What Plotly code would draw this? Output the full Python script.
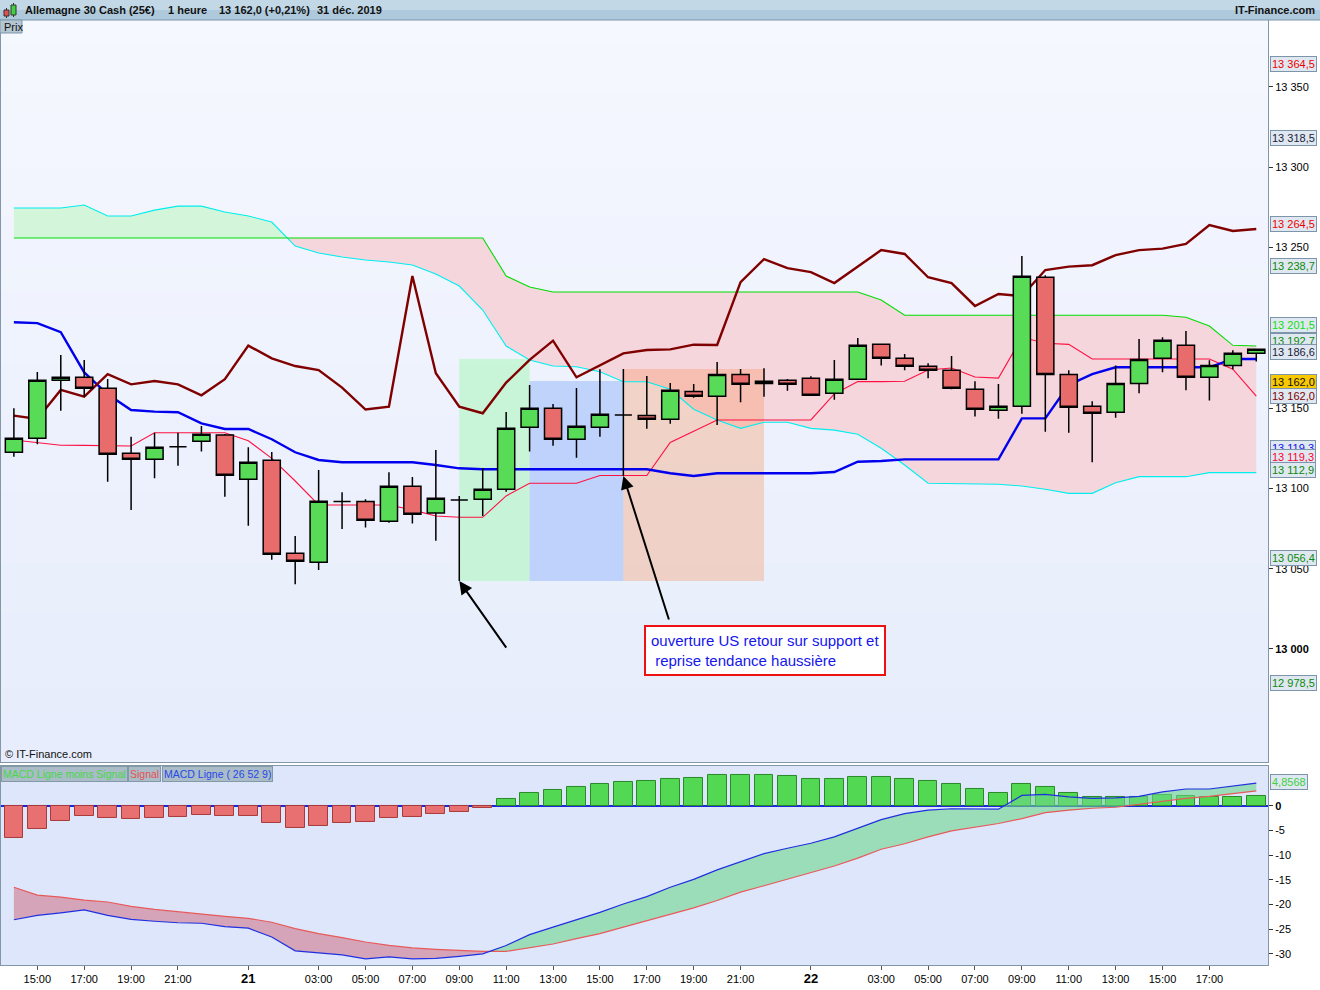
import numpy as np
import pandas as pd
import plotly.graph_objects as go

# ---------------- data ----------------
times = pd.date_range("2019-12-20 14:00", periods=54, freq="h")

opens = [13122.5, 13131.2, 13167.3, 13169.2, 13162.3, 13121.9, 13118.1, 13126.0, 13129.3, 13133.2,
         13105.7, 13117.5, 13059.6, 13054.0, 13091.8, 13091.8, 13079.5, 13101.3, 13084.6, 13092.8,
         13093.3, 13099.5, 13138.1, 13149.9, 13130.6, 13138.1, 13145.7, 13145.4, 13143.0, 13160.4,
         13157.4, 13171.0, 13165.4, 13167.3, 13168.6, 13159.2, 13167.9, 13189.7, 13181.0, 13176.0,
         13173.5, 13161.7, 13148.6, 13151.1, 13231.5, 13171.0, 13151.1, 13147.4, 13165.4, 13181.0,
         13189.1, 13169.2, 13176.6, 13184.1]
closes = [13131.2, 13167.3, 13169.2, 13162.3, 13121.2, 13118.1, 13125.6, 13126.0, 13133.7, 13108.2,
          13116.3, 13059.0, 13054.6, 13092.0, 13091.8, 13080.1, 13101.3, 13083.9, 13093.8, 13092.8,
          13099.5, 13137.4, 13149.9, 13130.6, 13138.7, 13146.2, 13145.7, 13143.0, 13161.1, 13157.4,
          13171.0, 13164.8, 13166.7, 13164.8, 13158.0, 13167.9, 13189.1, 13181.0, 13176.0, 13173.5,
          13162.3, 13149.3, 13151.1, 13232.1, 13171.0, 13150.5, 13146.8, 13165.4, 13180.3, 13192.2,
          13169.2, 13176.6, 13184.1, 13186.6]
highs = [13149.9, 13172.5, 13183.1, 13180.0, 13168.1, 13132.2, 13134.7, 13134.7, 13138.9, 13133.8,
         13125.6, 13122.7, 13070.4, 13111.5, 13097.6, 13093.3, 13110.0, 13107.1, 13123.9, 13095.3,
         13112.7, 13147.6, 13164.4, 13152.6, 13162.5, 13174.2, 13174.3, 13170.0, 13165.6, 13165.0,
         13178.7, 13174.3, 13174.8, 13168.1, 13169.8, 13180.0, 13193.6, 13190.2, 13183.7, 13177.9,
         13182.4, 13166.7, 13165.0, 13244.7, 13232.7, 13173.5, 13154.2, 13176.6, 13193.0, 13194.1,
         13198.0, 13179.8, 13186.0, 13187.0]
lows = [13119.7, 13127.5, 13148.4, 13157.1, 13104.2, 13086.6, 13106.3, 13114.1, 13122.9, 13094.8,
        13076.8, 13055.6, 13040.3, 13049.2, 13074.7, 13075.6, 13078.6, 13078.2, 13067.4, 13042.3,
        13082.8, 13097.9, 13122.9, 13126.6, 13119.1, 13132.2, 13107.7, 13137.2, 13140.3, 13156.5,
        13139.5, 13153.6, 13157.1, 13160.8, 13157.5, 13155.2, 13167.5, 13176.6, 13173.5, 13168.6,
        13161.8, 13144.7, 13143.4, 13146.5, 13135.3, 13134.7, 13116.3, 13144.0, 13159.2, 13172.4,
        13161.1, 13154.8, 13174.2, 13179.1]

kijun = [13203.5, 13202.9, 13197.3, 13172.2, 13158.6, 13148.8, 13147.8, 13147.4, 13140.5, 13137.0,
         13137.0, 13130.6, 13122.5, 13117.7, 13116.3, 13116.3, 13116.3, 13116.3, 13114.6, 13112.5,
         13111.9, 13111.9, 13111.9, 13111.9, 13111.9, 13111.9, 13111.9, 13111.9, 13109.4, 13107.7,
         13109.4, 13109.4, 13109.4, 13109.4, 13109.4, 13110.2, 13116.6, 13117.1, 13118.1, 13118.1,
         13118.1, 13118.1, 13118.1, 13143.6, 13143.6, 13164.4, 13171.2, 13175.4, 13175.4, 13175.4,
         13175.4, 13175.4, 13180.6, 13180.6]
tenkan = [13130.1, 13128.5, 13126.9, 13126.8, 13126.6, 13126.4, 13134.7, 13134.7, 13134.7, 13134.7,
          13129.7, 13118.7, 13104.6, 13089.7, 13089.7, 13089.7, 13089.7, 13086.6, 13082.8, 13082.0,
          13082.0, 13095.3, 13103.2, 13103.2, 13103.2, 13108.0, 13108.0, 13108.0, 13128.6, 13135.7,
          13142.6, 13142.6, 13142.6, 13142.6, 13142.6, 13158.8, 13166.5, 13166.5, 13166.7, 13173.7,
          13175.0, 13169.4, 13168.7, 13194.1, 13190.4, 13189.7, 13180.6, 13180.6, 13180.6, 13180.6,
          13180.6, 13180.6, 13174.2, 13157.5]
chikou = [13145.3, 13143.2, 13161.3, 13157.2, 13171.1, 13164.8, 13166.9, 13164.8, 13158.0, 13168.0,
          13188.9, 13181.0, 13176.2, 13173.7, 13162.8, 13149.1, 13150.9, 13232.3, 13171.7, 13150.9,
          13146.8, 13165.9, 13180.0, 13192.0, 13169.2, 13176.8, 13184.1, 13186.2, 13186.6, 13189.5,
          13189.3, 13228.5, 13242.8, 13237.2, 13234.7, 13227.9, 13237.9, 13248.4, 13246.0, 13231.5,
          13227.8, 13213.6, 13221.1, 13219.8, 13236.0, 13238.1, 13239.0, 13245.3, 13248.4, 13249.3,
          13252.2, 13264.0, 13260.3, 13261.5]
senkou_a = [13274.6, 13274.6, 13274.6, 13276.5, 13269.6, 13269.6, 13273.3, 13275.8, 13275.8, 13272.1,
            13269.6, 13265.9, 13250.9, 13246.6, 13244.1, 13242.2, 13241.0, 13239.1, 13233.5, 13226.0,
            13211.1, 13188.7, 13180.0, 13176.2, 13175.8, 13172.7, 13166.4, 13166.4, 13161.7, 13149.3,
            13142.6, 13137.4, 13141.2, 13141.2, 13137.4, 13136.3, 13133.7, 13125.0, 13114.6, 13103.2,
            13103.1, 13102.7, 13102.6, 13101.5, 13099.5, 13096.9, 13096.9, 13103.5, 13107.3, 13107.3,
            13107.3, 13109.8, 13109.8, 13109.8]
senkou_b = [13255.9] * 21 + [13232.3, 13225.4] + [13222.3] * 14 + [13217.3] + [13207.8] * 12 + \
           [13206.6, 13201.1, 13189.1, 13188.7]

macd_hist = [-6.45, -4.64, -3.09, -2.08, -2.42, -2.62, -2.42, -2.22, -1.88, -2.08, -2.08, -3.43, -4.44,
             -4.03, -3.43, -3.23, -2.42, -2.22, -1.61, -1.21, -0.40, 1.28, 2.62, 3.29, 3.83, 4.44, 4.84,
             5.11, 5.44, 5.65, 6.25, 6.25, 6.25, 6.05, 5.44, 5.44, 5.85, 5.78, 5.44, 5.11, 4.44, 3.43,
             2.62, 4.44, 3.83, 2.62, 1.81, 1.75, 1.81, 2.22, 2.02, 1.81, 1.81, 2.02]
macd_line = [-23.1, -22.2, -21.7, -21.1, -22.2, -23.0, -23.4, -23.7, -23.8, -24.5, -24.8, -26.6, -29.4,
             -29.8, -30.2, -31.0, -30.6, -31.0, -30.9, -30.5, -30.0, -28.3, -26.1, -24.6, -23.1, -21.6,
             -19.9, -18.4, -16.5, -14.9, -13.0, -11.3, -9.7, -8.6, -7.6, -6.3, -4.5, -2.8, -1.6, -0.9,
             -0.6, -0.6, -0.7, 2.1, 2.3, 1.8, 1.5, 1.6, 1.9, 2.8, 3.4, 3.4, 4.0, 4.6]
macd_signal = [-16.5, -18.1, -18.5, -19.1, -19.5, -20.4, -21.0, -21.5, -21.9, -22.4, -22.8, -23.6, -24.9,
               -25.9, -26.7, -27.6, -28.3, -28.8, -29.1, -29.3, -29.5, -29.5, -28.8, -28.0, -26.9, -25.9,
               -24.6, -23.3, -21.9, -20.7, -19.2, -17.5, -16.2, -14.9, -13.6, -12.2, -10.6, -8.8, -7.7,
               -6.3, -5.1, -4.3, -3.6, -2.6, -1.4, -0.9, -0.5, -0.3, 0.3, 0.9, 1.5, 1.9, 2.4, 3.0]

# highlighted zones drawn on the chart (bar index start/end, price low/high)
zone_start = [19, 22, 26]
zone_end = [22, 26, 32]
zone_low = [13042.3, 13042.3, 13042.3]
zone_high = [13180.6, 13166.9, 13174.3]

# value tags on the right scale
tag_values = [13364.5, 13318.5, 13264.5, 13238.7, 13201.5, 13192.7, 13186.6, 13162.0, 13162.0,
              13119.3, 13119.3, 13112.9, 13056.4, 12978.5]
macd_tag = 4.8568
price_ticks = [13000, 13050, 13100, 13150, 13250, 13300, 13350]
macd_ticks = [0, -5, -10, -15, -20, -25, -30]

# ---------------- helpers ----------------
FONT = "Liberation Sans, Arial, sans-serif"
HOUR = pd.Timedelta(hours=1)
t0 = times[0]


def at(pos):
    return t0 + pos * HOUR


def fr(v, dec=1):
    s = f"{v:,.{dec}f}"
    return s.replace(",", " ").replace(".", ",")


def fill_between(a, b):
    a = np.asarray(a, float)
    b = np.asarray(b, float)
    pieces = []
    px, pa, pb = [0.0], [a[0]], [b[0]]
    sgn = bool(a[0] >= b[0])
    for i in range(1, len(a)):
        d0 = a[i - 1] - b[i - 1]
        d1 = a[i] - b[i]
        s1 = sgn if d1 == 0 else bool(d1 > 0)
        if s1 != sgn:
            t = d0 / (d0 - d1)
            xc = i - 1 + t
            yc = a[i - 1] + t * (a[i] - a[i - 1])
            px.append(xc); pa.append(yc); pb.append(yc)
            pieces.append((px, pa, pb, sgn))
            px, pa, pb, sgn = [xc], [yc], [yc], s1
        px.append(float(i)); pa.append(a[i]); pb.append(b[i])
    pieces.append((px, pa, pb, sgn))
    out = []
    for px, pa, pb, s in pieces:
        out.append(([at(p) for p in px + px[::-1]], list(pa) + list(pb[::-1]), s))
    return out


fig = go.Figure()

# ---------------- price pane ----------------
for xs, ys, up in fill_between(senkou_a, senkou_b):
    fig.add_trace(go.Scatter(x=xs, y=ys, fill="toself", mode="lines", line=dict(width=0),
                             fillcolor="#d3f6da" if up else "#f5d6dd", hoverinfo="skip",
                             showlegend=False, xaxis="x", yaxis="y"))

zone_colors = ["rgba(170,245,185,0.55)", "rgba(160,190,250,0.6)", "rgba(248,136,70,0.29)"]
for s, e, lo, hi, col in zip(zone_start, zone_end, zone_low, zone_high, zone_colors):
    fig.add_trace(go.Scatter(x=[at(s), at(e), at(e), at(s), at(s)], y=[lo, lo, hi, hi, lo],
                             fill="toself", mode="lines", line=dict(width=0), fillcolor=col,
                             hoverinfo="skip", showlegend=False, xaxis="x", yaxis="y"))

line_specs = [(senkou_a, "#00eeee", 1.1), (senkou_b, "#00dd00", 1.1), (tenkan, "#ff1040", 1.1),
              (kijun, "#0000ee", 2.4), (chikou, "#800000", 2.4)]
for vals, col, w in line_specs:
    fig.add_trace(go.Scatter(x=times, y=vals, mode="lines", line=dict(color=col, width=w),
                             hoverinfo="skip", showlegend=False, xaxis="x", yaxis="y"))

# candles on an overlaid subplot so they sit above the filled areas
fig.add_trace(go.Candlestick(
    x=times, open=opens, high=highs, low=lows, close=closes,
    increasing=dict(line=dict(color="black", width=1.5), fillcolor="#58dc58"),
    decreasing=dict(line=dict(color="black", width=1.5), fillcolor="#e86c6c"),
    whiskerwidth=0, showlegend=False, hoverinfo="skip", xaxis="x3", yaxis="y3"))

# ---------------- MACD pane ----------------
for xs, ys, up in fill_between(macd_line, macd_signal):
    fig.add_trace(go.Scatter(x=xs, y=ys, fill="toself", mode="lines", line=dict(width=0),
                             fillcolor="rgba(110,215,140,0.6)" if up else "rgba(205,110,130,0.55)",
                             hoverinfo="skip", showlegend=False, xaxis="x2", yaxis="y2"))

fig.add_trace(go.Bar(
    x=times, y=macd_hist, width=0.8 * 3600 * 1000,
    marker=dict(color=["#52d852" if v >= 0 else "#e87070" for v in macd_hist],
                line=dict(color=["#2a8a2a" if v >= 0 else "#a83a3a" for v in macd_hist], width=1)),
    showlegend=False, hoverinfo="skip", xaxis="x2", yaxis="y2"))
fig.add_trace(go.Scatter(x=times, y=macd_signal, mode="lines", line=dict(color="#e85a5a", width=1.2),
                         hoverinfo="skip", showlegend=False, xaxis="x2", yaxis="y2"))
fig.add_trace(go.Scatter(x=times, y=macd_line, mode="lines", line=dict(color="#2030e0", width=1.2),
                         hoverinfo="skip", showlegend=False, xaxis="x2", yaxis="y2"))

# ---------------- axes ----------------
tick_vals, tick_text = [], []
for t in times[:-2]:
    if t.hour == 0:
        tick_vals.append(t)
        tick_text.append(f"<b><span style='font-size:13px'>{t.day}</span></b>")
    elif t.hour % 2 == 1 and t.hour not in (1, 23):
        tick_vals.append(t)
        tick_text.append(f"{t.hour:02d}:00")

xr = [at(-0.55), at(53.5)]
yr = [12929.6, 13391.7]
LINE = "#8397a8"
fig.update_layout(
    width=1320, height=990,
    margin=dict(l=1, r=52, t=20, b=25),
    paper_bgcolor="white", plot_bgcolor="#eef2fd",
    font=dict(family=FONT, size=11, color="black"),
    hovermode=False, showlegend=False, bargap=0, boxgap=0.27, boxgroupgap=0,
    xaxis=dict(domain=[0, 1], anchor="y", type="date", range=xr, showticklabels=False,
               showgrid=False, zeroline=False, showline=True, mirror=True, linecolor=LINE,
               rangeslider=dict(visible=False), ticks=""),
    xaxis2=dict(domain=[0, 1], anchor="y2", type="date", range=xr, matches="x",
                tickvals=tick_vals, ticktext=tick_text, ticks="outside", ticklen=4,
                tickcolor="#555", showgrid=False, zeroline=False, showline=True, mirror=True,
                linecolor=LINE, tickfont=dict(size=11, family=FONT)),
    xaxis3=dict(overlaying="x", anchor="y3", type="date", range=xr, matches="x", visible=False,
                rangeslider=dict(visible=False)),
    yaxis=dict(domain=[0.2148, 1], anchor="x", side="right", range=yr,
               tickvals=price_ticks,
               ticktext=[("<b>%s</b>" if v == 13000 else "%s") % fr(v, 0) for v in price_ticks],
               ticks="outside", ticklen=4, tickcolor="#333", showgrid=False, zeroline=False,
               showline=True, mirror=True, linecolor=LINE, tickfont=dict(size=11)),
    yaxis3=dict(overlaying="y", anchor="x3", range=yr, matches="y", visible=False),
    yaxis2=dict(domain=[0, 0.2106], anchor="x2", side="right", range=[-32.26, 8.06],
                tickvals=macd_ticks,
                ticktext=[("<b>%d</b>" if v == 0 else "%d") % v for v in macd_ticks],
                ticks="outside", ticklen=4, tickcolor="#333", showgrid=False, zeroline=True,
                zerolinecolor="#1a2ad8", zerolinewidth=1.5, showline=True, mirror=True,
                linecolor=LINE, tickfont=dict(size=11)),
)

shapes = []
# price pane vertical gradient
n_strips = 30
for k in range(n_strips):
    f = k / (n_strips - 1)
    r = int(246 - 15 * f); g = int(248 - 11 * f); b = int(255 - 3 * f)
    shapes.append(dict(type="rect", xref="x domain", yref="y domain", x0=0, x1=1,
                       y0=1 - (k + 1) / n_strips, y1=1 - k / n_strips + 0.001,
                       fillcolor=f"rgb({r},{g},{b})", line=dict(width=0), layer="below"))
shapes.append(dict(type="rect", xref="x2 domain", yref="y2 domain", x0=0, x1=1, y0=0, y1=1,
                   fillcolor="#dde6fb", line=dict(width=0), layer="below"))
# header bar
PX = 1267.0
PY = 945.0


def pxx(p):
    return (p - 1) / PX


def pxy(p):
    return (965 - p) / PY


shapes.append(dict(type="rect", xref="paper", yref="paper", x0=pxx(0), x1=pxx(1320), y0=pxy(20),
                   y1=pxy(10), fillcolor="#aec9db", line=dict(width=0)))
shapes.append(dict(type="rect", xref="paper", yref="paper", x0=pxx(0), x1=pxx(1320), y0=pxy(10),
                   y1=pxy(0), fillcolor="#c2d8e6", line=dict(width=0)))
shapes.append(dict(type="line", xref="paper", yref="paper", x0=pxx(0), x1=pxx(1320), y0=pxy(20),
                   y1=pxy(20), line=dict(color="#7d97aa", width=1)))
# header candle icon
shapes.append(dict(type="line", xref="paper", yref="paper", x0=pxx(6.5), x1=pxx(6.5), y0=pxy(18),
                   y1=pxy(8), line=dict(color="#333", width=1)))
shapes.append(dict(type="rect", xref="paper", yref="paper", x0=pxx(4), x1=pxx(9), y0=pxy(16),
                   y1=pxy(10), fillcolor="#e05050", line=dict(color="#333", width=1)))
shapes.append(dict(type="line", xref="paper", yref="paper", x0=pxx(13.5), x1=pxx(13.5), y0=pxy(17),
                   y1=pxy(3), line=dict(color="#333", width=1)))
shapes.append(dict(type="rect", xref="paper", yref="paper", x0=pxx(11), x1=pxx(16), y0=pxy(15),
                   y1=pxy(5), fillcolor="#40d040", line=dict(color="#333", width=1)))
# "Prix" tab
shapes.append(dict(type="rect", xref="paper", yref="paper", x0=pxx(0), x1=pxx(22), y0=pxy(33),
                   y1=pxy(20), fillcolor="#b4c6d2", line=dict(color="#7d97aa", width=1)))
fig.update_layout(shapes=shapes)

ann = []
hdr_y = pxy(10)
for txt, xp in [("Allemagne 30 Cash (25€)", 23), ("1 heure", 166), ("13 162,0 (+0,21%)", 217),
                ("31 déc. 2019", 315)]:
    ann.append(dict(xref="paper", yref="paper", x=pxx(xp), y=hdr_y, xanchor="left", yanchor="middle",
                    text=f"<b>{txt}</b>", showarrow=False, font=dict(size=11, color="#111")))
ann.append(dict(xref="paper", yref="paper", x=pxx(1317), y=hdr_y, xanchor="right", yanchor="middle",
                text="<b>IT-Finance.com</b>", showarrow=False, font=dict(size=11, color="#111")))
ann.append(dict(xref="paper", yref="paper", x=pxx(2), y=pxy(27), xanchor="left", yanchor="middle",
                text="Prix", showarrow=False, font=dict(size=11, color="#111")))
ann.append(dict(xref="paper", yref="y domain", x=pxx(3), y=0, xanchor="left", yanchor="bottom",
                text="© IT-Finance.com", showarrow=False, font=dict(size=11, color="#111")))

# MACD legend tabs
for txt, col, xp in [("MACD Ligne moins Signal", "#48d848", 1), ("Signal", "#e85050", 128),
                     ("MACD Ligne ( 26 52 9)", "#2848e8", 162)]:
    ann.append(dict(xref="paper", yref="y2 domain", x=pxx(xp), y=1, xanchor="left", yanchor="top",
                    text=txt, showarrow=False, font=dict(size=10.5, color=col), bgcolor="#a9bcc7",
                    bordercolor="#8499a8", borderwidth=1, borderpad=1))

# value tags on right axis
tag_colors = ["#ee0000", "#1a2238", "#ee0000", "#0a8a0a", "#10e010", "#0a8a0a", "#1a2238", "#111111",
              "#800000", "#1010ee", "#ff0030", "#0a8a0a", "#0a8a0a", "#0a8a0a"]
tag_bgs = ["#dfe7f1"] * 7 + ["#f8c800"] + ["#dfe7f1"] * 6
tag_shift = [0, 0, 0, 0, 0, -1, -3, 7, -7, 9, 0, -2, 0, 0]
for v, c, bg, sh in zip(tag_values, tag_colors, tag_bgs, tag_shift):
    ann.append(dict(xref="paper", yref="y", x=1, y=v, xanchor="left", yanchor="middle", xshift=2,
                    yshift=sh, text=fr(v, 1), showarrow=False, font=dict(size=11, color=c),
                    bgcolor=bg, bordercolor="#7d95aa", borderwidth=1, borderpad=1))
ann.append(dict(xref="paper", yref="y2", x=1, y=macd_tag, xanchor="left", yanchor="middle", xshift=2,
                text=fr(macd_tag, 4), showarrow=False, font=dict(size=11, color="#40d040"),
                bgcolor="#dfe7f1", bordercolor="#7d95aa", borderwidth=1, borderpad=1))

# arrows and comment box
ann.append(dict(xref="x", yref="y", x=times[19], y=lows[19], ax=48, ay=68, text="", showarrow=True,
                arrowhead=2, arrowsize=1.3, arrowwidth=2, arrowcolor="black"))
ann.append(dict(xref="x", yref="y", x=times[26], y=lows[26], ax=46, ay=145, text="", showarrow=True,
                arrowhead=2, arrowsize=1.3, arrowwidth=2, arrowcolor="black"))
ann.append(dict(xref="x", yref="y", x=at(26.87), y=12999.1, xanchor="left", yanchor="middle",
                text="ouverture US retour sur support et<br>\u00a0reprise tendance haussière",
                align="left", showarrow=False, font=dict(size=15, color="#1515ee"),
                bgcolor="white", bordercolor="#ee1111", borderwidth=2, borderpad=5))
fig.update_layout(annotations=ann)

fig.write_html("out.html", config={"displayModeBar": False},
               post_script="document.body.style.margin='0';document.body.style.overflow='hidden';")
